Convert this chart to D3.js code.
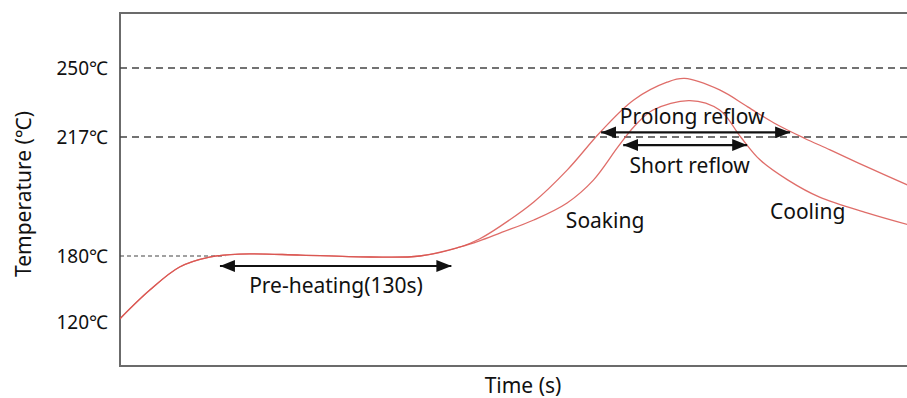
<!DOCTYPE html>
<html>
<head>
<meta charset="utf-8">
<script src="https://cdn.jsdelivr.net/npm/d3@7/dist/d3.min.js"></script>
<style>
  html, body { margin: 0; padding: 0; background: #fff; }
  svg { display: block; }
  text { font-family: "Noto Sans", "Open Sans", sans-serif; fill: #111; }
</style>
</head>
<body>
<svg id="chart" width="907" height="398"></svg>
<script>
// ---- data (time in s, temperature in °C, read from the schematic) ----
const timeProlong = [0, 17, 34, 51, 68, 103, 143, 171, 194, 205, 217, 236, 255, 274, 293, 312, 322, 342, 358, 373, 390, 405, 426, 449];
const tempProlong = [123, 149, 170, 179, 180.6, 180.3, 179.1, 180, 182.8, 185.3, 189.3, 196.8, 206.7, 219.4, 234.7, 243.2, 245, 239.5, 231.4, 223.7, 216.7, 213, 207.7, 202.1];
const timeShort = [0, 17, 34, 51, 68, 103, 143, 171, 194, 205, 217, 236, 255, 270, 284, 293, 304, 325, 342, 354, 365, 381, 399, 426, 449];
const tempShort = [123, 149, 170, 179, 180.6, 180.3, 179.1, 180, 182.8, 184.7, 187.2, 191.2, 196.5, 203.6, 213.9, 221.8, 229.9, 234.4, 229.9, 217, 209.9, 203.6, 198.3, 193.4, 189.8];

const tickTemps = [120, 180, 217, 250];
const fullRefLines = [250, 217];
const partialRefLine = 180;
const partialRefEnd = 60;

// double-headed arrows: [startTime, endTime, temperature]
const arrowStart = [57, 274.4, 287];
const arrowEnd = [189, 382.2, 357.7];
const arrowTemp = [170.9, 219.2, 214.5];

// annotation labels
const labelText = ["Pre-heating(130s)", "Prolong reflow", "Short reflow", "Soaking", "Cooling"];
const labelTime = [123.2, 326.3, 324.9, 276.7, 392.2];
const labelTemp = [146.4, 223.2, 205.8, 188.7, 191.5];

// ---- scales ----
const svg = d3.select("#chart");
const x = d3.scaleLinear().domain([0, 450]).range([120, 909]);
// schematic (non-uniform) temperature axis
const y = d3.scaleLinear().domain([80, 180, 217, 250, 276]).range([366, 256, 137, 68, 13]);

// frame (left, top, bottom; right side runs off the image)
svg.append("rect")
  .attr("x", x(0)).attr("y", y(276))
  .attr("width", 900).attr("height", y(80) - y(276))
  .attr("fill", "none").attr("stroke", "#6b6b6b").attr("stroke-width", 2);

// dashed reference lines
svg.selectAll("line.ref").data(fullRefLines).join("line")
  .attr("class", "ref")
  .attr("x1", x(0)).attr("x2", x(450))
  .attr("y1", d => y(d)).attr("y2", d => y(d))
  .attr("stroke", "#444").attr("stroke-width", 1.6)
  .attr("stroke-dasharray", "7,5");
svg.append("line")
  .attr("x1", x(0)).attr("x2", x(partialRefEnd))
  .attr("y1", y(partialRefLine)).attr("y2", y(partialRefLine))
  .attr("stroke", "#444").attr("stroke-width", 1.1)
  .attr("stroke-dasharray", "4,3");

// y axis labels
const yAxis = d3.axisLeft(y).tickValues(tickTemps).tickSize(0).tickPadding(12)
  .tickFormat(d => d + "℃");
const gy = svg.append("g").attr("transform", `translate(${x(0)},0)`).call(yAxis);
gy.select(".domain").remove();
gy.selectAll("text").style("font-size", "19px").style("font-family", '"Noto Sans", sans-serif').attr("fill", "#111");

// axis titles
svg.append("text")
  .attr("transform", `translate(31,194) rotate(-90)`)
  .attr("text-anchor", "middle")
  .style("font-size", "21px")
  .text("Temperature (℃)");
svg.append("text")
  .attr("x", 523).attr("y", 393)
  .attr("text-anchor", "middle")
  .style("font-size", "21px")
  .text("Time (s)");

// curves
svg.append("clipPath").attr("id", "plotclip").append("rect")
  .attr("x", x(0)).attr("y", y(276)).attr("width", 800).attr("height", y(80) - y(276));
const line = d3.line().x(d => x(d[0])).y(d => y(d[1])).curve(d3.curveCatmullRom.alpha(0.5));
const series = [d3.zip(timeProlong, tempProlong), d3.zip(timeShort, tempShort)];
svg.append("g").attr("clip-path", "url(#plotclip)")
  .selectAll("path").data(series).join("path")
  .attr("d", line)
  .attr("fill", "none")
  .attr("stroke", "#d9534f")
  .attr("stroke-opacity", 0.85)
  .attr("stroke-width", 1.3);

// arrow markers
const defs = svg.append("defs");
defs.append("marker").attr("id", "ah")
  .attr("viewBox", "0 0 15 12").attr("refX", 15).attr("refY", 6)
  .attr("markerWidth", 15).attr("markerHeight", 12)
  .attr("markerUnits", "userSpaceOnUse").attr("orient", "auto-start-reverse")
  .append("path").attr("d", "M0,0 L15,6 L0,12 Z").attr("fill", "#111");

const arrows = d3.zip(arrowStart, arrowEnd, arrowTemp);
svg.selectAll("line.arrow").data(arrows).join("line")
  .attr("class", "arrow")
  .attr("x1", d => x(d[0])).attr("x2", d => x(d[1]))
  .attr("y1", d => y(d[2])).attr("y2", d => y(d[2]))
  .attr("stroke", "#111").attr("stroke-width", 2.2)
  .attr("marker-start", "url(#ah)").attr("marker-end", "url(#ah)");

// labels
const labels = d3.zip(labelText, labelTime, labelTemp);
svg.selectAll("text.lab").data(labels).join("text")
  .attr("class", "lab")
  .attr("x", d => x(d[1])).attr("y", d => y(d[2]))
  .attr("text-anchor", "middle")
  .style("font-size", "21px")
  .text(d => d[0]);
</script>
</body>
</html>
